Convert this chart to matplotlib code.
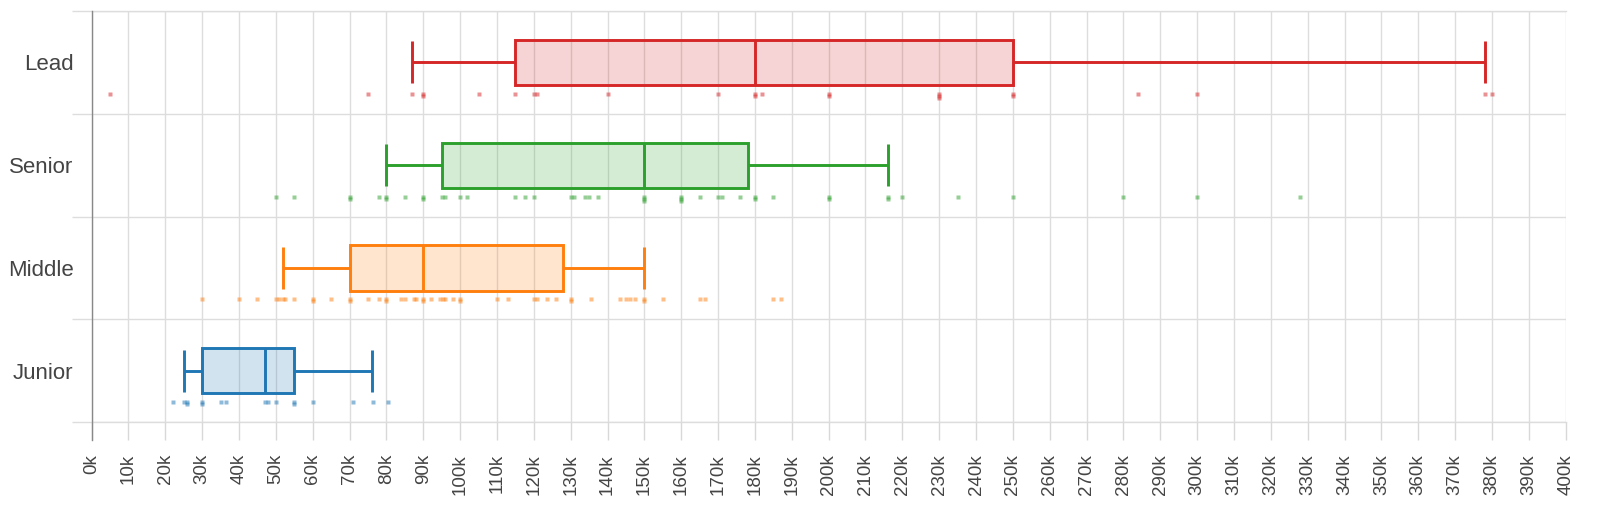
"""Salary by seniority level: box plot with strip of individual salaries."""
from collections import Counter

import numpy as np
import matplotlib
matplotlib.use("Agg")
import matplotlib.pyplot as plt
from matplotlib.ticker import FuncFormatter, MultipleLocator

plt.rcParams["font.family"] = ["Liberation Sans", "DejaVu Sans"]

# --- data (thousands) -------------------------------------------------------
levels = ["Junior", "Middle", "Senior", "Lead"]
colors = ["#1f77b4", "#ff7f0e", "#2ca02c", "#d62728"]

whislo = [25, 52, 80, 87]
q1 = [30, 70, 95, 115]
med = [47, 90, 150, 180]
q3 = [55, 128, 178, 250]
whishi = [76, 150, 216, 378]

junior_pts = [22, 25, 26, 26, 30, 30, 35, 36.5, 47, 48, 50, 55, 55, 60,
              71, 76.5, 80.5]
middle_pts = [30, 40, 45, 50, 51, 52, 52.5, 55, 60, 60, 65, 70, 70, 75, 78,
              80, 80, 84, 85, 87.5, 88, 90, 90, 92, 94.5, 95.5, 96, 98, 100,
              100, 110, 113, 120, 121, 123.5, 126, 130, 130, 135.5, 143.5,
              145, 146, 147.5, 150, 150, 155, 165, 166.5, 185, 187]
senior_pts = [50, 55, 70, 70, 78, 80, 80, 85, 90, 90, 95, 96, 100, 102, 115,
              117.5, 120, 130, 131, 134, 135, 137.5, 150, 150, 150, 160, 160,
              160, 165, 170, 171, 176, 180, 180, 185, 200, 200, 216, 216, 220,
              235, 250, 280, 300, 328]
lead_pts = [5, 75, 87, 90, 90, 105, 115, 120, 121, 140, 170, 180, 180, 182,
            200, 200, 230, 230, 230, 250, 250, 284, 300, 378, 380]
points = [junior_pts, middle_pts, senior_pts, lead_pts]

x_max = 400

# --- figure -----------------------------------------------------------------
fig = plt.figure(figsize=(16, 5.25), dpi=100)
ax = fig.add_axes([0.0572, 0.196, 0.9214, 0.783])

stats = []
for i in range(len(levels)):
    stats.append({"whislo": whislo[i], "q1": q1[i], "med": med[i],
                  "q3": q3[i], "whishi": whishi[i], "fliers": []})

ypos = np.arange(len(levels))
bp = ax.bxp(stats, positions=ypos, widths=0.44, capwidths=0.41,
            orientation="horizontal", patch_artist=True, showfliers=False)
for i, c in enumerate(colors):
    bp["boxes"][i].set(facecolor=matplotlib.colors.to_rgba(c, 0.2),
                       edgecolor=c, linewidth=2.1)
    bp["medians"][i].set(color=c, linewidth=2.1)
    for ln in bp["whiskers"][2 * i:2 * i + 2] + bp["caps"][2 * i:2 * i + 2]:
        ln.set(color=c, linewidth=2.1, solid_capstyle="butt")

# strip of individual salaries under each box; repeats sit a bit lower
for i, (pts, c) in enumerate(zip(points, colors)):
    seen = Counter()
    xs, ys = [], []
    for v in pts:
        xs.append(v)
        ys.append(ypos[i] - 0.305 - 0.02 * seen[v])
        seen[v] += 1
    ax.plot(xs, ys, "s", ms=2.5, color=c, alpha=0.5, mec="none")

# --- axes styling -----------------------------------------------------------
ax.set_xlim(0, x_max)
ax.set_ylim(-0.5, len(levels) - 0.5)

ax.xaxis.set_major_locator(MultipleLocator(10))
ax.xaxis.set_major_formatter(FuncFormatter(lambda v, _: f"{v:.0f}k"))
ax.tick_params(axis="x", length=13, width=1, color="#d8d8d8", pad=10,
               labelsize=13.5, labelcolor="#444444", labelrotation=90)
ax.grid(axis="x", color="#dddddd", linewidth=1)

ax.set_yticks(ypos)
ax.set_yticklabels(levels)
ax.set_yticks(np.arange(-0.5, len(levels)), minor=True)
ax.tick_params(axis="y", which="major", length=0, pad=13,
               labelsize=16, labelcolor="#444444")
ax.tick_params(axis="y", which="minor", length=14.5, width=1, color="#dddddd")
ax.grid(axis="y", which="minor", color="#dddddd", linewidth=1)
# band edges at the very top and bottom must not be clipped
ax.axhline(-0.5, color="#dddddd", linewidth=1, clip_on=False, zorder=0.5)
ax.axhline(len(levels) - 0.5, color="#dddddd", linewidth=1, clip_on=False,
           zorder=0.5)

for side in ("top", "right", "bottom"):
    ax.spines[side].set_visible(False)
ax.spines["left"].set_color("#888888")
ax.spines["left"].set_linewidth(1)
ax.spines["left"].set_bounds(-0.5 - 0.17, len(levels) - 0.5)
ax.spines["left"].set_clip_on(False)
ax.set_axisbelow(True)

fig.savefig("out.png", dpi=100)
